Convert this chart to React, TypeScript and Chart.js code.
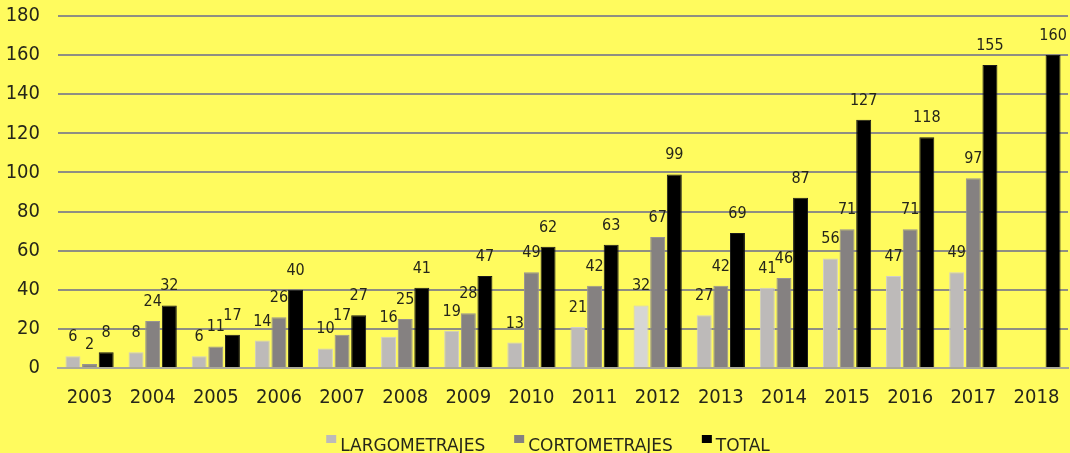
import React, { useEffect, useRef } from "react";
import { Chart, registerables } from "chart.js";

Chart.register(...registerables);

const categories = ["2003","2004","2005","2006","2007","2008","2009","2010","2011","2012","2013","2014","2015","2016","2017","2018"];
const largometrajes = [6, 8, 6, 14, 10, 16, 19, 13, 21, 32, 27, 41, 56, 47, 49, null];
const cortometrajes = [2, 24, 11, 26, 17, 25, 28, 49, 42, 67, 42, 46, 71, 71, 97, null];
const total = [8, 32, 17, 40, 27, 41, 47, 62, 63, 99, 69, 87, 127, 118, 155, 160];
const yTicks = [0, 20, 40, 60, 80, 100, 120, 140, 160, 180];
const seriesNames = ["LARGOMETRAJES", "CORTOMETRAJES", "TOTAL"];
const seriesColors = ["#bdbab9", "#858181", "#000000"];

const COND = "'DejaVu Sans Condensed', 'DejaVu Sans', sans-serif";
const SANS = "'DejaVu Sans', sans-serif";
const BG = "#fffb5e";
const TEXT = "#26261a";

const largoColors = categories.map((c) => (c === "2012" ? "#d6d6d4" : seriesColors[0]));

const labelPlugin = {
  id: "valueLabels",
  afterDatasetsDraw(chart: any) {
    const ctx = chart.ctx;
    ctx.save();
    ctx.font = `16px ${COND}`;
    ctx.fillStyle = TEXT;
    ctx.textAlign = "center";
    ctx.textBaseline = "alphabetic";
    chart.data.datasets.forEach((ds: any, i: number) => {
      const meta = chart.getDatasetMeta(i);
      meta.data.forEach((el: any, j: number) => {
        const v = ds.data[j];
        if (v === null || v === undefined) return;
        ctx.fillText(String(v), el.x, el.y - 15);
      });
    });
    ctx.restore();
  },
};

const legendPlugin = {
  id: "customLegend",
  afterDraw(chart: any) {
    const ctx = chart.ctx;
    ctx.save();
    ctx.font = `17px ${SANS}`;
    ctx.textBaseline = "alphabetic";
    ctx.textAlign = "left";
    const boxW = 10, boxH = 8, gapBox = 4, gapItem = 29;
    const widths = seriesNames.map((n) => ctx.measureText(n).width);
    const totalW = widths.reduce((a: number, w: number) => a + boxW + gapBox + w, 0) + gapItem * (seriesNames.length - 1);
    let x = 548 - totalW / 2;
    const baseline = 451;
    seriesNames.forEach((n, i) => {
      ctx.fillStyle = seriesColors[i];
      ctx.fillRect(x, baseline - 16, boxW, boxH);
      x += boxW + gapBox;
      ctx.fillStyle = TEXT;
      ctx.fillText(n, x, baseline);
      x += widths[i] + gapItem;
    });
    ctx.restore();
  },
};

const bgPlugin = {
  id: "bg",
  beforeDraw(chart: any) {
    const ctx = chart.ctx;
    ctx.save();
    ctx.fillStyle = BG;
    ctx.fillRect(0, 0, chart.width, chart.height);
    ctx.restore();
  },
};

export default function App() {
  const ref = useRef<HTMLCanvasElement>(null);
  useEffect(() => {
    document.body.style.margin = "0";
    document.body.style.background = BG;
    const chart = new Chart(ref.current!, {
      type: "bar",
      data: {
        labels: categories,
        datasets: [
          { label: seriesNames[0], data: largometrajes, backgroundColor: largoColors, borderColor: "#cfcccb", borderWidth: 1 },
          { label: seriesNames[1], data: cortometrajes, backgroundColor: seriesColors[1], borderColor: "#979393", borderWidth: 1 },
          { label: seriesNames[2], data: total, backgroundColor: seriesColors[2], borderColor: "#1a1a1a", borderWidth: 1 },
        ],
      },
      options: {
        animation: false,
        responsive: false,
        layout: { padding: { left: 0, right: 2, top: 16, bottom: 39 } },
        datasets: { bar: { categoryPercentage: 0.79, barPercentage: 0.9 } } as any,
        plugins: {
          legend: { display: false },
          tooltip: { enabled: false },
        },
        scales: {
          x: {
            grid: { display: false },
            border: { display: true, color: "#aaa99a", width: 2 },
            ticks: { font: { family: COND, size: 20 }, color: TEXT, padding: 10 },
            afterFit: (axis: any) => { axis.height = 46; axis.paddingLeft = 0; axis.paddingRight = 0; },
          },
          y: {
            min: 0,
            max: 180,
            afterBuildTicks: (axis: any) => {
              axis.ticks = yTicks.map((v) => ({ value: v }));
            },
            grid: { color: "#8f8e82", lineWidth: 2, drawTicks: false },
            border: { display: false },
            ticks: { font: { family: COND, size: 20 }, color: TEXT, padding: 18 },
            afterFit: (axis: any) => { axis.width = 58; axis.paddingTop = 0; axis.paddingBottom = 0; },
          },
        },
      },
      plugins: [bgPlugin, labelPlugin, legendPlugin],
    });
    return () => chart.destroy();
  }, []);
  return (
    <div style={{ width: 1070, height: 453 }}>
      <canvas ref={ref} width={1070} height={453} style={{ display: "block" }} />
    </div>
  );
}
